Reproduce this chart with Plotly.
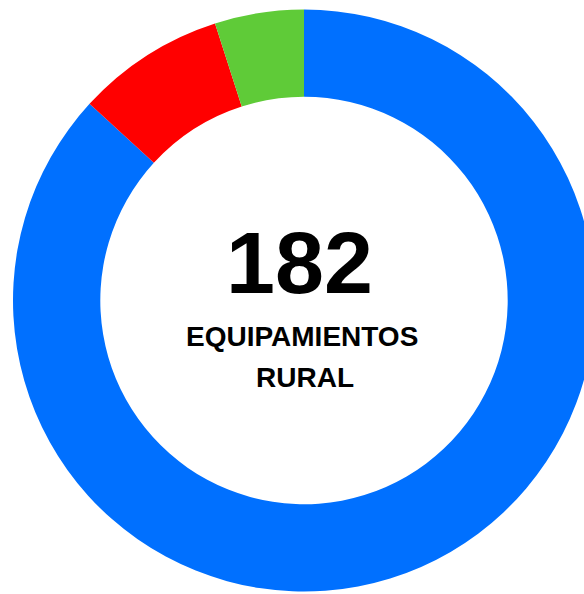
import plotly.graph_objects as go

labels = ["Azul", "Rojo", "Verde"]
values = [158, 15, 9]
colors = ["#0070FF", "#FF0000", "#5FCB38"]
total_label = "182"
subtitle_lines = ["EQUIPAMIENTOS", "RURAL"]

W, H = 608, 594
cx_page, cy_page, r = 304, 300.5, 291

fig = go.Figure(go.Pie(
    labels=labels,
    values=values,
    marker=dict(colors=colors, line=dict(width=0)),
    hole=0.70,
    sort=False,
    direction="clockwise",
    rotation=0,
    textinfo="none",
    hoverinfo="label+value",
    domain=dict(x=[0, 1], y=[(H - cy_page - r) / H, (H - cy_page + r) / H]),
))

font_family = "Liberation Sans, Arial, sans-serif"
fig.add_annotation(x=299 / W, y=1 - 262.5 / H, xref="paper", yref="paper",
                   text="<b>%s</b>" % total_label, showarrow=False,
                   font=dict(size=88, color="black", family=font_family),
                   xanchor="center", yanchor="middle")
fig.add_annotation(x=302 / W, y=1 - 336 / H, xref="paper", yref="paper",
                   text="<b>%s</b>" % subtitle_lines[0], showarrow=False,
                   font=dict(size=28, color="black", family=font_family),
                   xanchor="center", yanchor="middle")
fig.add_annotation(x=305 / W, y=1 - 377 / H, xref="paper", yref="paper",
                   text="<b>%s</b>" % subtitle_lines[1], showarrow=False,
                   font=dict(size=28, color="black", family=font_family),
                   xanchor="center", yanchor="middle")

fig.update_layout(
    width=W, height=H,
    margin=dict(l=0, r=0, t=0, b=0),
    showlegend=False,
    paper_bgcolor="white",
    plot_bgcolor="white",
)

fig.write_html("out.html",
               config={"displayModeBar": False},
               post_script="document.body.style.margin='0';document.body.style.overflow='hidden';")
